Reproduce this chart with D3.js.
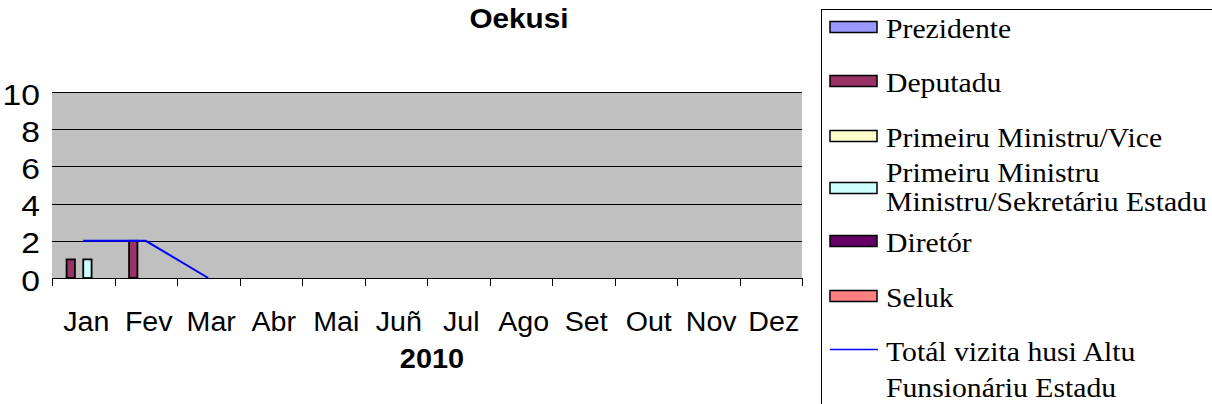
<!DOCTYPE html>
<html>
<head>
<meta charset="utf-8">
<script src="https://cdn.jsdelivr.net/npm/d3@7"></script>
<style>
  html, body { margin: 0; padding: 0; background: #ffffff; }
  svg { display: block; }
</style>
</head>
<body>
<svg id="chart" width="1212" height="404"></svg>
<script>
// Monthly official visits to Oekusi, 2010
const months = ["Jan", "Fev", "Mar", "Abr", "Mai", "Juñ", "Jul", "Ago", "Set", "Out", "Nov", "Dez"];
const seriesNames = ["Prezidente", "Deputadu", "Primeiru Ministru/Vice",
  "Primeiru Ministru Ministru/Sekretáriu Estadu", "Diretór", "Seluk"];
const prezidente = [null, null, null, null, null, null, null, null, null, null, null, null];
const deputadu   = [1, 2, null, null, null, null, null, null, null, null, null, null];
const primeiruMinistruVice = [null, null, null, null, null, null, null, null, null, null, null, null];
const ministruSekretariu   = [1, null, null, null, null, null, null, null, null, null, null, null];
const diretor = [null, null, null, null, null, null, null, null, null, null, null, null];
const seluk   = [null, null, null, null, null, null, null, null, null, null, null, null];
const totalVizita = [2, 2, 0, null, null, null, null, null, null, null, null, null];
const yTicks = [0, 2, 4, 6, 8, 10];

const barSeries = [prezidente, deputadu, primeiruMinistruVice, ministruSekretariu, diretor, seluk];
const barColors = ["#9999ff", "#993366", "#ffffcc", "#ccffff", "#660066", "#ff8080"];

const SANS = "Liberation Sans, Arial, sans-serif";
const SERIF = "Liberation Serif, Times New Roman, serif";

// widen glyphs horizontally around each text's anchor x
function stretchX(sel, f) {
  sel.each(function () {
    const ax = +this.getAttribute("x") || 0;
    this.setAttribute("transform", `translate(${ax},0) scale(${f},1) translate(${-ax},0)`);
  });
}

const svg = d3.select("#chart");
const plot = { left: 52, right: 802, top: 92, bottom: 278 };

const x = d3.scaleBand().domain(months).range([plot.left, plot.right]).paddingInner(0).paddingOuter(0);
const y = d3.scaleLinear().domain([0, 10]).range([plot.bottom, plot.top]);
// clustered bars: gap of 1.5 bar widths shared around each group
const xs = d3.scaleBand().domain(d3.range(barSeries.length))
  .range([0, x.bandwidth()]).paddingInner(0).paddingOuter(0.75);

// plot background
svg.append("rect")
  .attr("x", plot.left).attr("y", plot.top)
  .attr("width", plot.right - plot.left).attr("height", plot.bottom - plot.top)
  .attr("fill", "#c0c0c0");

// horizontal gridlines
svg.append("g").selectAll("line").data(yTicks.filter(d => d > 0)).join("line")
  .attr("x1", plot.left).attr("x2", plot.right)
  .attr("y1", d => Math.round(y(d)) + 0.5).attr("y2", d => Math.round(y(d)) + 0.5)
  .attr("stroke", "#000").attr("stroke-width", 1);

// y axis labels
const yAxis = d3.axisLeft(y).tickValues(yTicks).tickSize(0).tickPadding(12);
const gy = svg.append("g").attr("transform", `translate(${plot.left},0)`).call(yAxis);
gy.select(".domain").remove();
gy.selectAll("text")
  .attr("font-family", SANS)
  .attr("font-size", 29).attr("fill", "#000").attr("dy", "0.42em")
  .call(stretchX, 1.16);

// bars
const groups = svg.append("g").selectAll("g").data(barSeries).join("g")
  .attr("fill", (d, i) => barColors[i]);
groups.each(function (vals, si) {
  d3.select(this).selectAll("rect")
    .data(vals.map((v, mi) => ({ v, m: months[mi] })).filter(d => d.v != null && d.v > 0))
    .join("rect")
    .attr("x", d => x(d.m) + xs(si))
    .attr("width", xs.bandwidth())
    .attr("y", d => y(d.v))
    .attr("height", d => y(0) - y(d.v))
    .attr("stroke", "#000").attr("stroke-width", 1.8);
});

// total line
const line = d3.line()
  .defined(d => d.v != null)
  .x(d => x(d.m) + x.bandwidth() / 2)
  .y(d => y(d.v));
svg.append("path")
  .datum(totalVizita.map((v, i) => ({ v, m: months[i] })))
  .attr("d", line)
  .attr("fill", "none").attr("stroke", "#0000ff").attr("stroke-width", 2);

// x axis
const xAxisTicks = months.map(m => x(m)).concat([plot.right]);
const gx = svg.append("g");
gx.append("line")
  .attr("x1", plot.left).attr("x2", plot.right)
  .attr("y1", plot.bottom + 0.5).attr("y2", plot.bottom + 0.5)
  .attr("stroke", "#000");
gx.selectAll("line.tick").data(xAxisTicks).join("line").attr("class", "tick")
  .attr("x1", d => Math.round(d) + 0.5).attr("x2", d => Math.round(d) + 0.5)
  .attr("y1", plot.bottom).attr("y2", plot.bottom + 8)
  .attr("stroke", "#000");
gx.selectAll("text").data(months).join("text")
  .attr("x", d => x(d) + x.bandwidth() / 2 + 3)
  .attr("y", 331)
  .attr("text-anchor", "middle")
  .attr("font-family", SANS)
  .attr("font-size", 27)
  .text(d => d)
  .call(stretchX, 1.06);

// titles
svg.append("text")
  .attr("x", 519).attr("y", 28)
  .attr("text-anchor", "middle")
  .attr("font-family", SANS)
  .attr("font-size", 27).attr("font-weight", "bold")
  .text("Oekusi")
  .call(stretchX, 1.1);
svg.append("text")
  .attr("x", 432).attr("y", 368)
  .attr("text-anchor", "middle")
  .attr("font-family", SANS)
  .attr("font-size", 27).attr("font-weight", "bold")
  .text("2010")
  .call(stretchX, 1.07);

// legend
const legend = svg.append("g");
legend.append("rect")
  .attr("x", 821.5).attr("y", 9.5).attr("width", 420).attr("height", 420)
  .attr("fill", "#fff").attr("stroke", "#000").attr("stroke-width", 1);

const legendItems = [
  { color: barColors[0], cy: 27, lines: [seriesNames[0]] },
  { color: barColors[1], cy: 81, lines: [seriesNames[1]] },
  { color: barColors[2], cy: 136, lines: [seriesNames[2]] },
  { color: barColors[3], cy: 188, lines: ["Primeiru Ministru", "Ministru/Sekretáriu Estadu"], base: 182 },
  { color: barColors[4], cy: 241, lines: [seriesNames[4]] },
  { color: barColors[5], cy: 296, lines: [seriesNames[5]] }
];
const legendX = 886;
legendItems.forEach(it => {
  legend.append("rect")
    .attr("x", 830).attr("y", it.cy - 5.5).attr("width", 47).attr("height", 11)
    .attr("fill", it.color).attr("stroke", "#000").attr("stroke-width", 1.5);
  const t = legend.append("text").attr("x", legendX)
    .attr("font-family", SERIF)
    .attr("font-size", 27).attr("fill", "#000");
  const base = it.base != null ? it.base : it.cy + 11;
  it.lines.forEach((ln, k) => {
    t.append("tspan").attr("x", legendX).attr("y", base + k * 29).text(ln);
  });
  t.call(stretchX, 1.1);
});
legend.append("line")
  .attr("x1", 830).attr("x2", 878).attr("y1", 349.5).attr("y2", 349.5)
  .attr("stroke", "#0000ff").attr("stroke-width", 1.5);
const lt = legend.append("text").attr("x", legendX)
  .attr("font-family", SERIF)
  .attr("font-size", 27).attr("fill", "#000");
lt.append("tspan").attr("x", legendX).attr("y", 361).text("Totál vizita husi Altu");
lt.append("tspan").attr("x", legendX).attr("y", 397).text("Funsionáriu Estadu");
lt.call(stretchX, 1.1);
</script>
</body>
</html>
